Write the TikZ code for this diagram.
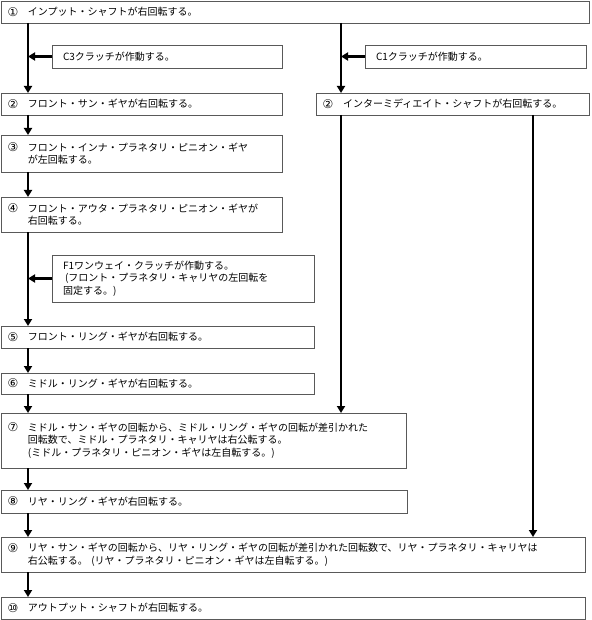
\documentclass[tikz,border=0pt]{standalone}
\usepackage{fontspec}
\usepackage{xcolor}
\usetikzlibrary{arrows.meta}
\newfontfamily\jpfont{Noto Sans CJK JP}
\newfontfamily\numfont{DejaVu Sans}
\newcommand{\stepnum}[1]{\makebox[20pt][l]{\hspace*{-0.5pt}\raisebox{-0.5pt}{\numfont\fontsize{12}{12}\selectfont #1}}}
\newcommand{\stepind}{\hspace*{20pt}}

\tikzset{
    stage/.style={draw=black!65, line width=0.8pt, rectangle, anchor=north west,
        inner xsep=7pt, inner ysep=0pt, outer sep=0pt, align=left,
        font=\jpfont\fontsize{10}{12.5}\selectfont},
    note/.style={stage, inner xsep=11pt},
    flow/.style={line width=2.5pt, -{Triangle[width=8pt,length=7pt]}},
    spine/.style={line width=2.5pt}
}

\begin{document}
\begin{tikzpicture}[x=1pt, y=-1pt]
    \useasboundingbox (0,0) rectangle (591,620);

    % Define the nodes with specific positions
    \begin{scope}[xshift=0cm, yshift=0cm]
        \node[stage, text width=574pt, minimum height=22pt] (s1) at (1, 1) {\stepnum{①}インプット・シャフトが右回転する。};

        \node[note, text width=208pt, minimum height=23pt] (c3) at (52, 45) {C3クラッチが作動する。};
        \node[note, text width=199pt, minimum height=23pt] (c1) at (365, 45) {C1クラッチが作動する。};

        \node[stage, text width=267pt, minimum height=22pt] (s2) at (1, 93) {\stepnum{②}フロント・サン・ギヤが右回転する。};
        \node[stage, text width=259pt, minimum height=22pt] (s2r) at (316, 93) {\stepnum{②}インターミディエイト・シャフトが右回転する。};

        \node[stage, text width=267pt, minimum height=37pt] (s3) at (1, 135) {\stepnum{③}フロント・インナ・プラネタリ・ピニオン・ギヤ\\\stepind が左回転する。};
        \node[stage, text width=267pt, minimum height=35pt] (s4) at (1, 197) {\stepnum{④}フロント・アウタ・プラネタリ・ピニオン・ギヤが\\\stepind 右回転する。};

        \node[note, text width=240pt, minimum height=47pt] (f1) at (52, 255) {F1ワンウェイ・クラッチが作動する。\\\hspace*{2pt}(フロント・プラネタリ・キャリヤの左回転を\\固定する。)};

        \node[stage, text width=299pt, minimum height=22pt] (s5) at (1, 326) {\stepnum{⑤}フロント・リング・ギヤが右回転する。};
        \node[stage, text width=299pt, minimum height=21pt] (s6) at (1, 373) {\stepnum{⑥}ミドル・リング・ギヤが右回転する。};
        \node[stage, text width=391pt, minimum height=55pt] (s7) at (1, 413) {\stepnum{⑦}ミドル・サン・ギヤの回転から、ミドル・リング・ギヤの回転が差引かれた\\\stepind 回転数で、ミドル・プラネタリ・キャリヤは右公転する。\\\stepind (ミドル・プラネタリ・ピニオン・ギヤは左自転する。)};
        \node[stage, text width=392pt, minimum height=23pt] (s8) at (1, 490) {\stepnum{⑧}リヤ・リング・ギヤが右回転する。};
        \node[stage, text width=570pt, minimum height=35pt] (s9) at (1, 537) {\stepnum{⑨}リヤ・サン・ギヤの回転から、リヤ・リング・ギヤの回転が差引かれた回転数で、リヤ・プラネタリ・キャリヤは\\\stepind 右公転する。 (リヤ・プラネタリ・ピニオン・ギヤは左自転する。)};
        \node[stage, text width=570pt, minimum height=22pt] (s10) at (1, 597) {\stepnum{⑩}アウトプット・シャフトが右回転する。};

        % Vertical lines of the three shafts
        \coordinate (lineL) at (28, 0);
        \coordinate (lineM) at (341, 0);
        \coordinate (lineR) at (533, 0);

        % Draw the edges between nodes
        \draw[flow] (lineL |- s1.south) -- (lineL |- s2.north);
        \draw[flow] (lineL |- s2.south) -- (lineL |- s3.north);
        \draw[flow] (lineL |- s3.south) -- (lineL |- s4.north);
        \draw[flow] (lineL |- s4.south) -- (lineL |- s5.north);
        \draw[flow] (lineL |- s5.south) -- (lineL |- s6.north);
        \draw[flow] (lineL |- s6.south) -- (lineL |- s7.north);
        \draw[flow] (lineL |- s7.south) -- (lineL |- s8.north);
        \draw[flow] (lineL |- s8.south) -- (lineL |- s9.north);
        \draw[flow] (lineL |- s9.south) -- (lineL |- s10.north);

        \draw[flow] (lineM |- s1.south) -- (lineM |- s2r.north);
        \draw[flow] (lineM |- s2r.south) -- (lineM |- s7.north);
        \draw[flow] (lineR |- s2r.south) -- (lineR |- s9.north);

        % Clutches acting on the lines
        \draw[flow] (c3.west) -- (c3.west -| lineL);
        \draw[flow] (c1.west) -- (c1.west -| lineM);
        \draw[flow] (f1.west) -- (f1.west -| lineL);
    \end{scope}
\end{tikzpicture}
\end{document}
